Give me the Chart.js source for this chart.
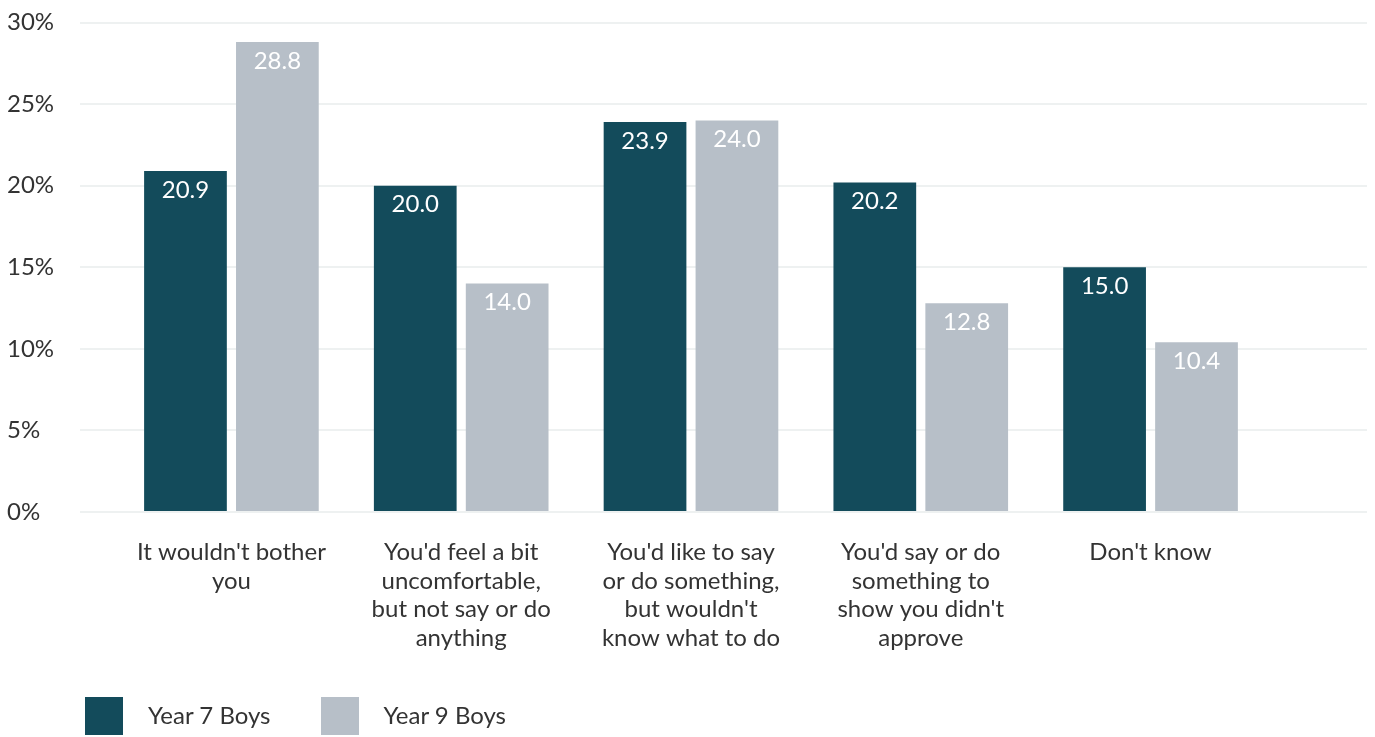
<!DOCTYPE html>
<html>
<head>
<meta charset="utf-8">
<script src="https://cdn.jsdelivr.net/npm/chart.js@4.4.1/dist/chart.umd.min.js"></script>
<style>
  html, body { margin: 0; padding: 0; background: #ffffff; }
  #wrap { position: relative; width: 1375px; height: 737px; }
  #legend { position: absolute; left: 85px; top: 697px; display: flex; align-items: center;
            font-family: Lato, "Open Sans", sans-serif; font-size: 24px; color: #333333; }
  .item { display: flex; align-items: center; margin-right: 50px; }
  .item span { position: relative; top: -2px; }
  .swatch { width: 38px; height: 38px; margin-right: 25px; }
</style>
</head>
<body>
<div id="wrap">
  <canvas id="chart" width="1375" height="737"></canvas>
  <div id="legend"></div>
</div>
<script>
// Response categories (one array of lines per tick label)
const categories = [
  ["It wouldn't bother", "you"],
  ["You'd feel a bit", "uncomfortable,", "but not say or do", "anything"],
  ["You'd like to say", "or do something,", "but wouldn't", "know what to do"],
  ["You'd say or do", "something to", "show you didn't", "approve"],
  ["Don't know"]
];
const seriesNames = ["Year 7 Boys", "Year 9 Boys"];
const year7Boys = [20.9, 20.0, 23.9, 20.2, 15.0];
const year9Boys = [28.8, 14.0, 24.0, 12.8, 10.4];
const yTicks = [0, 5, 10, 15, 20, 25, 30];

const colors = ["#134b5b", "#b7bfc8"];
const FONT = "Lato, 'Open Sans', sans-serif";

// White value labels just inside the top of each bar
const valueLabels = {
  id: 'valueLabels',
  afterDatasetsDraw(chart) {
    const ctx = chart.ctx;
    ctx.save();
    ctx.font = "24px " + FONT;
    ctx.fillStyle = "#ffffff";
    ctx.textAlign = "center";
    ctx.textBaseline = "middle";
    chart.data.datasets.forEach((ds, di) => {
      const meta = chart.getDatasetMeta(di);
      meta.data.forEach((bar, i) => {
        ctx.fillText(ds.data[i].y.toFixed(1), bar.x, bar.y + 19);
      });
    });
    ctx.restore();
  }
};

// Legend rendered as HTML below the plot
const htmlLegend = {
  id: 'htmlLegend',
  afterUpdate(chart) {
    const box = document.getElementById('legend');
    box.innerHTML = '';
    chart.data.datasets.forEach(ds => {
      const item = document.createElement('div');
      item.className = 'item';
      const sw = document.createElement('div');
      sw.className = 'swatch';
      sw.style.background = ds.backgroundColor;
      const txt = document.createElement('span');
      txt.textContent = ds.label;
      item.appendChild(sw);
      item.appendChild(txt);
      box.appendChild(item);
    });
  }
};

new Chart(document.getElementById('chart'), {
  type: 'bar',
  data: {
    datasets: [
      { label: seriesNames[0], data: year7Boys.map((v, i) => ({ x: i, y: v })), backgroundColor: colors[0] },
      { label: seriesNames[1], data: year9Boys.map((v, i) => ({ x: i, y: v })), backgroundColor: colors[1] }
    ]
  },
  options: {
    responsive: false,
    animation: false,
    layout: { padding: { left: 7, right: 8, top: 22.5, bottom: 0 } },
    plugins: { legend: { display: false }, tooltip: { enabled: false } },
    scales: {
      x: {
        type: 'linear',
        offset: false,
        bounds: 'ticks',
        min: -0.659,
        max: 4.942,
        grid: { display: false, drawTicks: false, offset: false },
        border: { display: false },
        afterBuildTicks(scale) { scale.ticks = categories.map((_, i) => ({ value: i })); },
        afterFit(scale) { scale.height = 225; },
        ticks: {
          autoSkip: false,
          maxRotation: 0,
          padding: 26,
          color: "#333333",
          font: { family: FONT, size: 24, lineHeight: 1.19 },
          callback: (v) => categories[v]
        }
      },
      y: {
        min: 0,
        max: 30,
        afterBuildTicks(scale) { scale.ticks = yTicks.map(v => ({ value: v })); },
        afterFit(scale) { scale.width = 73; },
        grid: { color: "#eef1f1", lineWidth: 2, drawTicks: false },
        border: { display: false },
        ticks: {
          crossAlign: 'far',
          padding: 0,
          color: "#333333",
          font: { family: FONT, size: 24 },
          callback: (v) => v + '%'
        }
      }
    }
  },
  plugins: [valueLabels, htmlLegend]
});
</script>
</body>
</html>
